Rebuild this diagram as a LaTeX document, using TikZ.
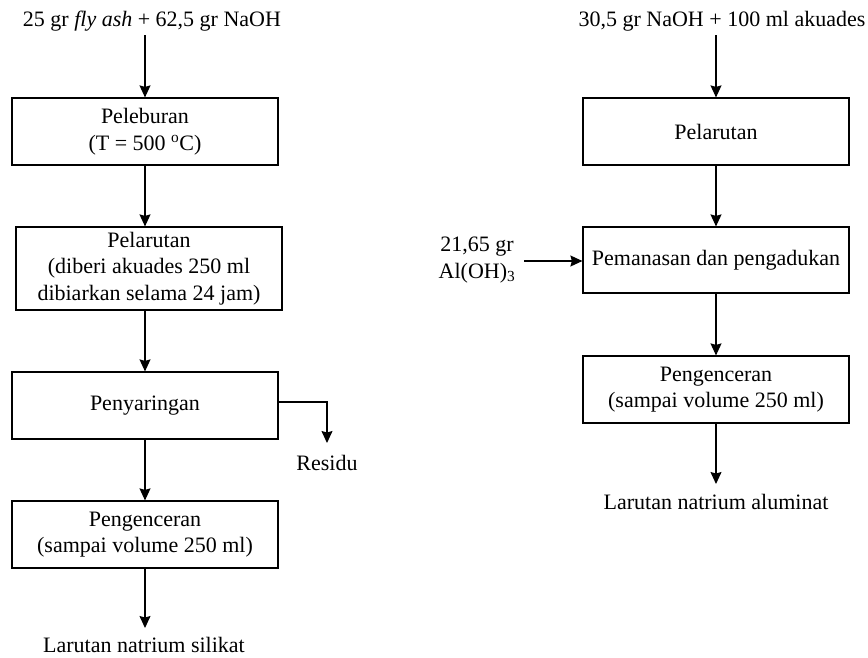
\documentclass[tikz,border=0pt]{standalone}
\usepackage{fontspec}
\setmainfont{Liberation Serif}
\usetikzlibrary{arrows.meta}
\tikzset{
  procbox/.style={draw, line width=1.2pt, minimum width=266pt, minimum height=67pt, align=center, inner sep=0pt},
  lbl/.style={align=center, inner sep=0pt},
  flow/.style={line width=1.1pt, -{Stealth[length=12pt,width=11pt,inset=1.5pt]}},
  plain/.style={line width=1.1pt}
}
\begin{document}
\begin{tikzpicture}[x=1pt,y=-1pt,font=\fontsize{22}{26.5}\selectfont]
\useasboundingbox (0,0) rectangle (868,657);
% left column
\node[lbl] (in1) at (152,21) {25 gr \textit{fly ash} + 62,5 gr NaOH};
\coordinate (s1) at (145,35);
\node[procbox] (b1) at (145,131.5) {Peleburan\\(T = 500 \textsuperscript{o}C)};
\node[procbox, minimum height=83pt] (b2) at (149,268.5) {Pelarutan\\(diberi akuades 250 ml\\dibiarkan selama 24 jam)};
\node[procbox] (b3) at (145,405.5) {Penyaringan};
\node[procbox] (b4) at (145,534.5) {Pengenceran\\(sampai volume 250 ml)};
\node[lbl] (out1) at (144,645) {Larutan natrium silikat};
\node[lbl] (res) at (327,463) {Residu};
\coordinate (rs) at (278,402);
\coordinate (rc) at (327,402);
\coordinate (re) at (327,443);
\coordinate (o1) at (145,628);
\draw[flow] (s1) -- (b1.north);
\draw[flow] (b1.south) -- (b1.south |- b2.north);
\draw[flow] (b1.south |- b2.south) -- (b3.north);
\draw[flow] (b3.south) -- (b4.north);
\draw[flow] (b4.south) -- (o1);
\draw[flow] (rs) -- (rc) -- (re);
% right column
\node[lbl] (in2) at (722,21) {30,5 gr NaOH + 100 ml akuades};
\coordinate (s2) at (716,35);
\node[procbox] (r1) at (716,131.5) {Pelarutan};
\node[procbox, minimum height=66pt] (r2) at (716,260) {Pemanasan dan pengadukan};
\node[procbox] (r3) at (716,389.5) {Pengenceran\\(sampai volume 250 ml)};
\node[lbl] (out2) at (716,502) {Larutan natrium aluminat};
\coordinate (o2) at (716,484);
\node[lbl] (al) at (477,260) {21,65 gr\\Al(OH)\textsubscript{3}};
\coordinate (as) at (524,261);
\draw[flow] (s2) -- (r1.north);
\draw[flow] (r1.south) -- (r2.north);
\draw[flow] (r2.south) -- (r3.north);
\draw[flow] (r3.south) -- (o2);
\draw[flow] (as) -- (as -| r2.west);
\end{tikzpicture}
\end{document}
